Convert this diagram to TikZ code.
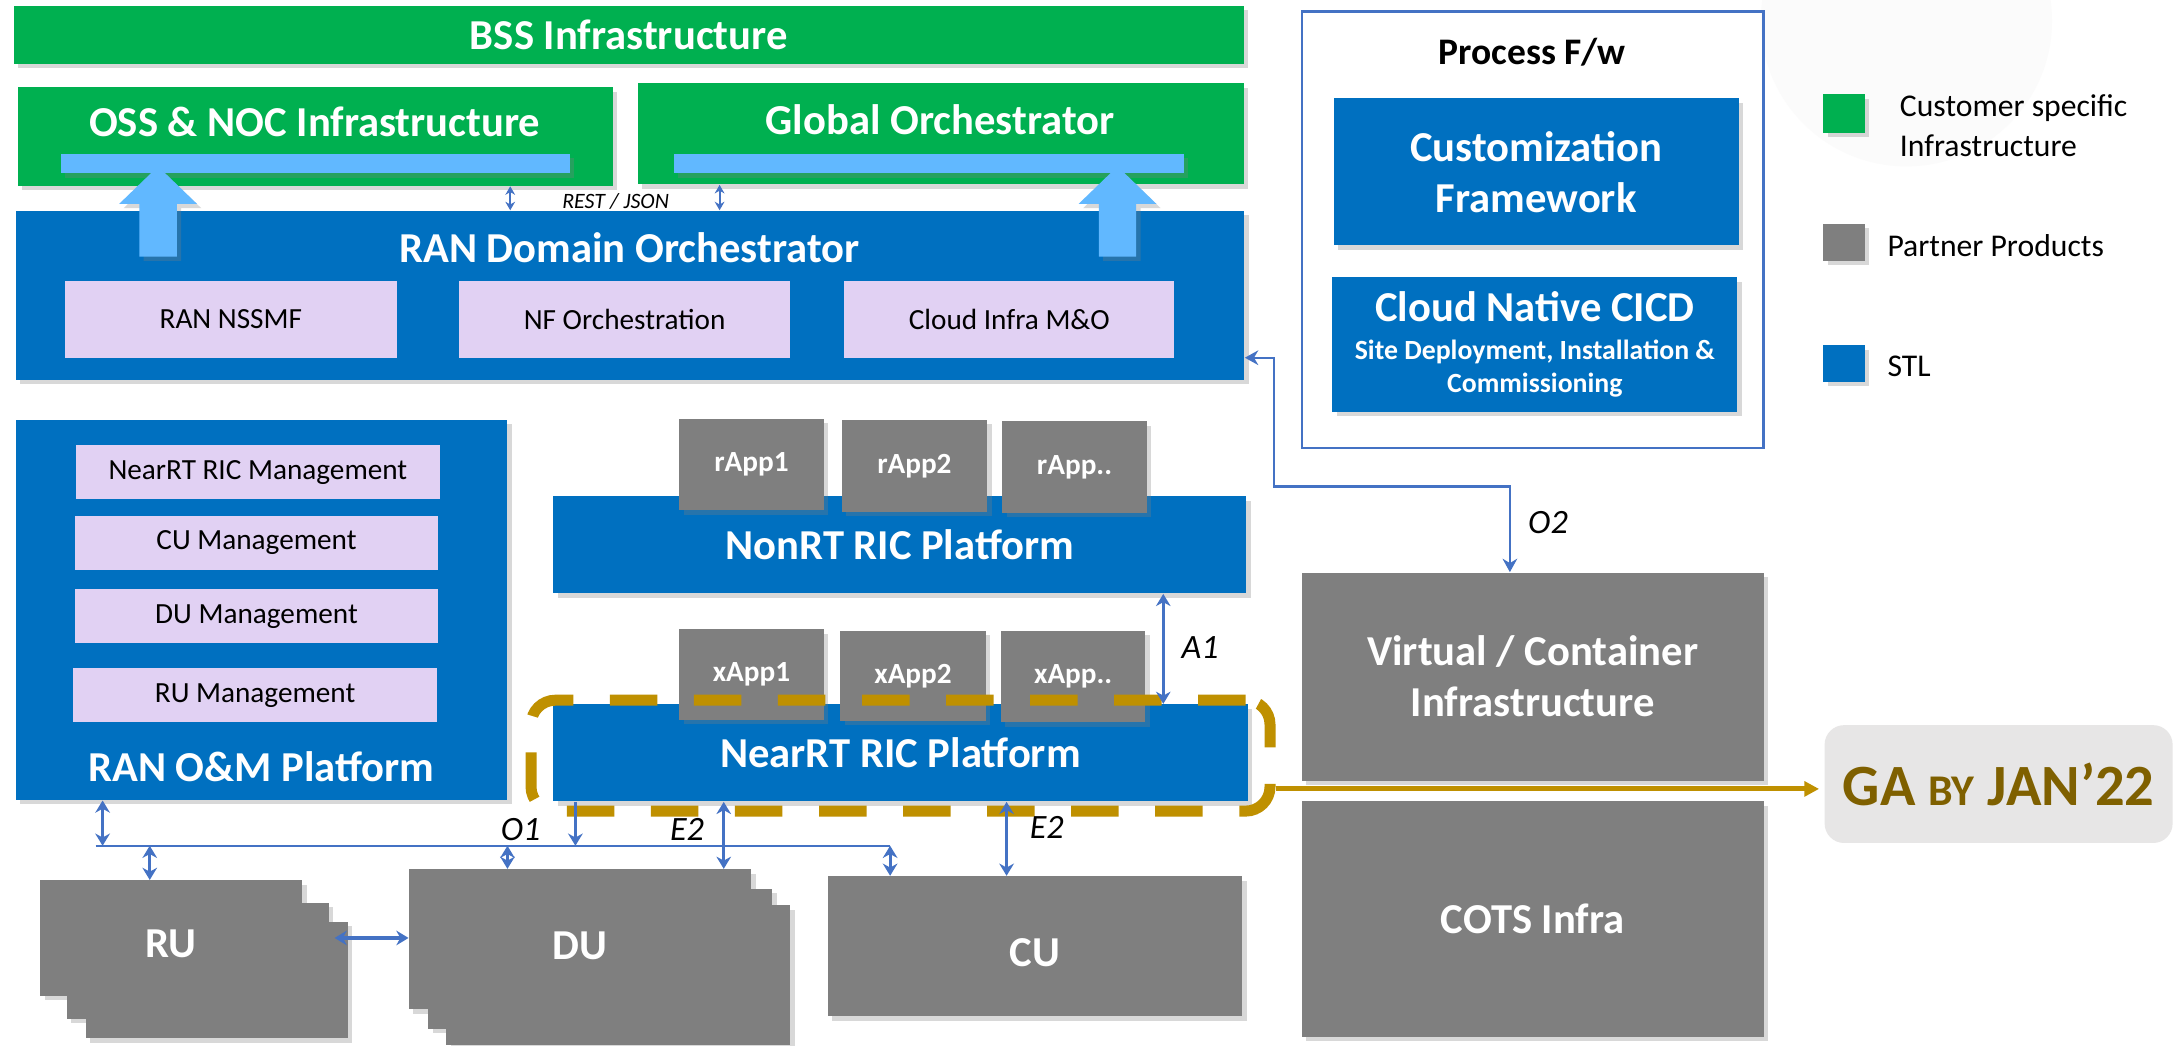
\documentclass[tikz,border=0pt]{standalone}
\usepackage{fontspec}
\setmainfont{Carlito}
\usepackage{tikz}
\usetikzlibrary{fit}
\usetikzlibrary{arrows.meta}
\usetikzlibrary{shadows}

\definecolor{custgreen}{HTML}{00B050}
\definecolor{stlblue}{HTML}{0070C0}
\definecolor{partgray}{HTML}{7F7F7F}
\definecolor{barblue}{HTML}{61B8FF}
\definecolor{lilac}{HTML}{E1D1F3}
\definecolor{linkblue}{HTML}{4472C4}
\definecolor{gagold}{HTML}{BF9000}
\definecolor{gatext}{HTML}{7F6000}
\definecolor{gagray}{HTML}{E7E6E6}

\tikzset{
  boxshadow/.style={drop shadow={opacity=.3, shadow xshift=1.8pt, shadow yshift=-1.8pt}},
  tiletext/.style={text=white, align=center, font=\bfseries\fontsize{17.5}{21}\selectfont},
  apptext/.style={text=white, font=\bfseries\fontsize{12}{14}\selectfont},
  subtext/.style={text=black, font=\fontsize{12}{14}\selectfont},
  tag/.style={label={[tiletext]center:#1}},
  apptag/.style={label={[apptext]center:#1}},
  subtag/.style={label={[subtext]center:#1}},
  tile/.style={inner sep=0pt, boxshadow},
  custbox/.style={tile, fill=custgreen},
  stlbox/.style={tile, fill=stlblue},
  partbox/.style={tile, fill=partgray},
  subbox/.style={inner sep=0pt, fill=lilac},
  barbox/.style={inner sep=0pt, fill=barblue, boxshadow},
  boxtitle/.style={inner sep=0pt, text=white, font=\bfseries\fontsize{17.5}{21}\selectfont},
  fwframe/.style={draw=linkblue, line width=1.1pt, inner sep=0pt},
  fwtitle/.style={inner sep=0pt, font=\bfseries\fontsize{15.4}{18}\selectfont},
  keybox/.style={inner sep=0pt, boxshadow},
  keytext/.style={inner sep=0pt, anchor=west, align=left, font=\fontsize{13}{16.5}\selectfont},
  gabox/.style={inner sep=0pt, fill=gagray, rounded corners=8pt},
  gatag/.style={label={[text=gatext, font=\bfseries\fontsize{24}{28}\selectfont]center:#1}},
  nearscope/.style={draw=gagold, line width=4.5pt, dash pattern=on 19.5pt off 15pt,
    rounded corners=10pt, inner sep=0pt},
  link/.style={draw=linkblue, line width=1.3pt,
    {Stealth[length=5pt,width=6pt]}-{Stealth[length=5pt,width=6pt]}},
  restlink/.style={draw=linkblue, line width=0.8pt,
    {Stealth[length=3.5pt,width=4pt]}-{Stealth[length=3.5pt,width=4pt]}},
  o2link/.style={draw=linkblue, line width=1pt,
    {Stealth[length=5.5pt,width=6pt]}-{Stealth[length=5.5pt,width=6pt]}},
  feed/.style={draw=linkblue, line width=1.3pt, -{Stealth[length=5pt,width=6pt]}},
  bus/.style={draw=linkblue, line width=1pt},
  iface/.style={inner sep=0pt, font=\itshape\fontsize{14}{16}\selectfont},
  restlabel/.style={inner sep=0pt, font=\itshape\fontsize{9}{11}\selectfont},
  goldline/.style={draw=gagold, line width=2pt, -{Triangle[length=6pt,width=6pt]}},
  uparrow/.pic={
    \fill[barblue, boxshadow] (-13.5,65) -- (-13.5,27) -- (-28,27) -- (0,0)
      -- (28,27) -- (13.5,27) -- (13.5,65) -- cycle;
  }
}

\begin{document}
\begin{tikzpicture}[x=0.02cm, y=-0.02cm]
  \useasboundingbox (0,0) rectangle (1568,754);
  \fill[white] (0,0) rectangle (1568,754);
  \fill[black!1.5] (1375,15) circle[radius=105];

  % customer specific layer
  \node[custbox, fit={(10,4) (897,46)}, tag={BSS Infrastructure}] (bss) {};
  \node[custbox, fit={(13,63) (442,134)}] (oss) {};
  \node[custbox, fit={(460,60) (897,133)}] (glob) {};
  \node[boxtitle] (oss-title) at (227,88) {OSS \& NOC Infrastructure};
  \node[boxtitle] (glob-title) at (678,86) {Global Orchestrator};
  \node[barbox, fit={(44,111) (411,125)}] (oss-bar) {};
  \node[barbox, fit={(486,111) (854,125)}] (glob-bar) {};

  % RAN domain orchestrator
  \node[stlbox, fit={(11.5,152) (897.5,274)}] (rando) {};
  \node[boxtitle] (rando-title) at (454,179) {RAN Domain Orchestrator};
  \node[subbox, fit={(47,203) (286,258)}, subtag={RAN NSSMF}] (nssmf) {};
  \node[subbox, fit={(331,203) (570,258)}, subtag={NF Orchestration}] (nforch) {};
  \node[subbox, fit={(609,203) (847,258)}, subtag={Cloud Infra M\&O}] (cloudmo) {};
  \pic at (114,120) {uparrow};
  \pic at (806,120) {uparrow};

  \coordinate (rest-l) at (368,0);
  \coordinate (rest-r) at (519,0);
  \draw[restlink] (oss.south -| rest-l) -- (rando.north -| rest-l);
  \draw[restlink] (glob.south -| rest-r) -- (rando.north -| rest-r);
  \node[restlabel] (rest) at (444,145) {REST / JSON};

  % process framework
  \node[fwframe, fit={(939,8.4) (1272,323)}] (procfw) {};
  \node[fwtitle] (procfw-title) at (1105,38) {Process F/w};
  \node[stlbox, fit={(962,71) (1254,177)}, tag={Customization\\Framework}] (custfw) {};
  \node[stlbox, fit={(961,200) (1253,297)},
    label={[tiletext, font=\bfseries\fontsize{11.4}{13.7}\selectfont]center:{\fontsize{17.5}{21}\selectfont Cloud Native CICD}\\[1.9pt]Site Deployment, Installation \&\\Commissioning}] (cicd) {};

  % legend
  \node[keybox, fill=custgreen, fit={(1315,68) (1345,96)}] (key-cust) {};
  \node[keytext] (key-cust-text) at (1370,90.5) {Customer specific\\Infrastructure};
  \node[keybox, fill=partgray, fit={(1315,161.5) (1345,188)}] (key-part) {};
  \node[keytext] (key-part-text) at (1361,177) {Partner Products};
  \node[keybox, fill=stlblue, fit={(1315,249) (1345,275.5)}] (key-stl) {};
  \node[keytext] (key-stl-text) at (1361,264.5) {STL};

  % RAN O&M platform
  \node[stlbox, fit={(11.6,303) (366,577)}] (om) {};
  \node[subbox, fit={(55,321) (317,360)}, subtag={NearRT RIC Management}] (nearmgmt) {};
  \node[subbox, fit={(54,372) (316,411)}, subtag={CU Management}] (cumgmt) {};
  \node[subbox, fit={(54,425) (316,464)}, subtag={DU Management}] (dumgmt) {};
  \node[subbox, fit={(53,482) (315,521)}, subtag={RU Management}] (rumgmt) {};
  \node[boxtitle] (om-title) at (188.5,553) {RAN O\&M Platform};

  % RIC platforms
  \node[stlbox, fit={(399,358) (899,428)}, tag={NonRT RIC Platform}] (nonrt) {};
  \node[partbox, fit={(490,302) (594,368)}, apptag={rApp1}] (rapp1) {};
  \node[partbox, fit={(607,303) (712,369)}, apptag={rApp2}] (rapp2) {};
  \node[partbox, fit={(723,304) (827,370)}, apptag={rApp..}] (rappn) {};
  \node[stlbox, fit={(399,508) (900,578)}, tag={NearRT RIC Platform}] (nearrt) {};
  \node[partbox, fit={(490,454) (594,519)}, apptag={xApp1}] (xapp1) {};
  \node[partbox, fit={(606,455) (711,520)}, apptag={xApp2}] (xapp2) {};
  \node[partbox, fit={(722,455) (826,521)}, apptag={xApp..}] (xappn) {};
  \node[nearscope, fit={(383,505) (916,585)}] (gascope) {};

  % infrastructure
  \node[partbox, fit={(939,413) (1272,563)}, tag={Virtual / Container\\Infrastructure}] (vci) {};
  \node[partbox, fit={(939,578) (1272,748)}, tag={COTS Infra}] (cots) {};
  \node[gabox, fit={(1316,523) (1567,608)}, gatag={GA {\fontsize{18}{20}\selectfont BY} JAN’22}] (ga) {};

  % RU, DU, CU
  \node[partbox, fit={(62,665) (251,749)}] (ru3) {};
  \node[partbox, fit={(48,651) (237,735)}] (ru2) {};
  \node[partbox, fit={(29,635) (218,718)},
    label={[tiletext, yshift=-2.5pt]center:RU}] (ru) {};
  \node[partbox, fit={(322,653) (570,754)}] (du3) {};
  \node[partbox, fit={(309,641) (557,742)}] (du2) {};
  \node[partbox, fit={(295,627) (542,728)},
    label={[tiletext, yshift=-2.5pt]center:DU}] (du) {};
  \node[partbox, fit={(597,632) (896,733)},
    label={[tiletext, yshift=-2.5pt]center:CU}] (cu) {};

  % interfaces
  \coordinate (bus-w) at (69,610);
  \coordinate (tap-om) at (74,610);
  \coordinate (tap-ru) at (108,610);
  \coordinate (tap-du) at (366,610);
  \coordinate (tap-near) at (415,610);
  \coordinate (tap-e2du) at (522,610);
  \coordinate (tap-cu) at (642,610);
  \coordinate (tap-e2cu) at (726,610);
  \coordinate (a1) at (839,468);
  \draw[bus] (bus-w) -- (tap-cu);
  \draw[link] (om.south -| tap-om) -- (tap-om);
  \draw[link] (tap-ru) -- (ru.north -| tap-ru);
  \draw[link] (tap-du) -- (du.north -| tap-du);
  \draw[feed] (nearrt.south -| tap-near) -- (tap-near);
  \draw[link] (nearrt.south -| tap-e2du) -- (du.north -| tap-e2du);
  \draw[link] (tap-cu) -- (cu.north -| tap-cu);
  \draw[link] (nearrt.south -| tap-e2cu) -- (cu.north -| tap-e2cu);
  \draw[link] (nonrt.south -| a1) -- (nearrt.north -| a1);
  \draw[link] ([xshift=-0.2cm]ru3.east |- ru.center) -- (du.west |- ru.center);

  \coordinate (o2-a) at (919,258);
  \coordinate (o2-b) at (1089,351);
  \draw[o2link] (rando.east |- o2-a) -- (o2-a) |- (o2-b) -- (vci.north -| o2-b);

  \node[iface] (o1-label) at (375.5,598) {O1};
  \node[iface] (e2du-label) at (495.5,598) {E2};
  \node[iface] (e2cu-label) at (755,597) {E2};
  \node[iface] (a1-label) at (865.5,467) {A1};
  \node[iface] (o2-label) at (1116.5,377) {O2};

  \coordinate (ga-in) at (1312,569);
  \draw[goldline] (gascope.east |- ga-in) -- (ga-in);
\end{tikzpicture}
\end{document}
